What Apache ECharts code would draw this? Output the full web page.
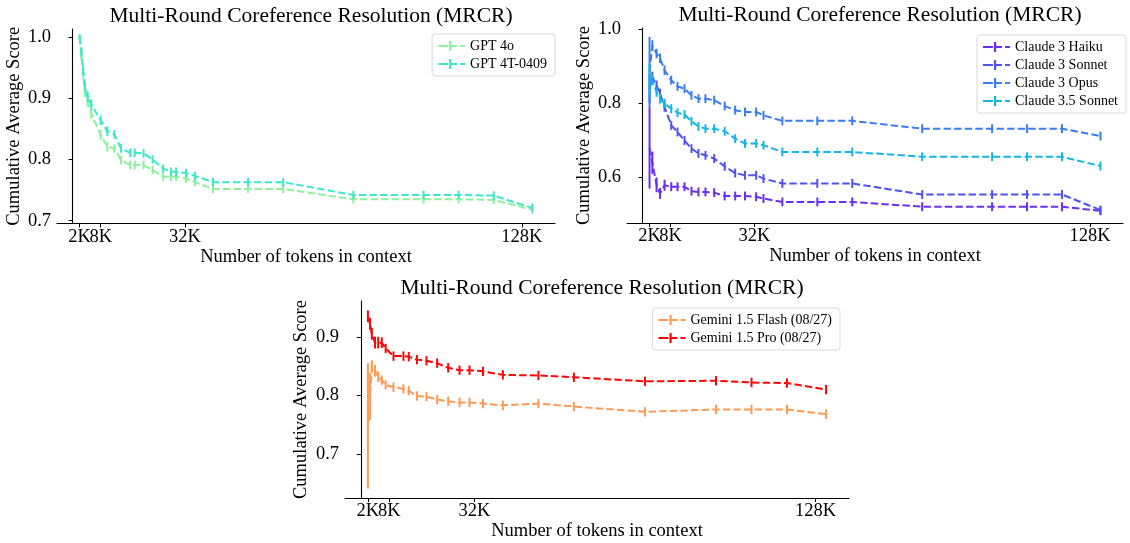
<!DOCTYPE html>
<html><head><meta charset="utf-8">
<script src="https://cdn.jsdelivr.net/npm/echarts@6/dist/echarts.min.js"></script>
<style>html,body{margin:0;padding:0;background:#fff}#c{width:1130px;height:543px}</style>
</head><body><div id="c"></div>
<script>
// ---- data ----
const tickValuesK = [2, 8, 32, 128];
const tickLabels = ['2K', '8K', '32K', '128K'];
const titleText = 'Multi-Round Coreference Resolution (MRCR)';
const xLabel = 'Number of tokens in context';
const yLabel = 'Cumulative Average Score';

const xGPT = [2, 2.5, 3, 3.5, 4.3, 5.3, 8, 9.9, 11.9, 13.8, 16.4, 17.7, 20.2, 22.8, 25.8, 28, 29.5, 32.3, 34.9, 40, 50, 60, 80, 100, 110, 120, 131];
const gpt4o = [1.0, 0.97, 0.94, 0.91, 0.894, 0.875, 0.840, 0.821, 0.818, 0.799, 0.791, 0.791, 0.791, 0.783, 0.772, 0.772, 0.772, 0.769, 0.763, 0.752, 0.752, 0.752, 0.735, 0.735, 0.735, 0.734, 0.718];
const gpt4oErr = [0.004, 0.008, 0.008, 0.008, 0.008, 0.008, 0.008, 0.008, 0.007, 0.007, 0.007, 0.007, 0.007, 0.007, 0.007, 0.007, 0.007, 0.007, 0.007, 0.007, 0.007, 0.007, 0.007, 0.007, 0.007, 0.007, 0.007];
const gpt4T = [1.0, 0.975, 0.945, 0.92, 0.902, 0.89, 0.864, 0.846, 0.841, 0.818, 0.811, 0.811, 0.810, 0.800, 0.785, 0.780, 0.780, 0.778, 0.773, 0.763, 0.763, 0.763, 0.742, 0.742, 0.742, 0.741, 0.721];
const gpt4TErr = [0.004, 0.008, 0.008, 0.008, 0.008, 0.008, 0.008, 0.008, 0.007, 0.007, 0.007, 0.007, 0.007, 0.007, 0.007, 0.007, 0.007, 0.007, 0.007, 0.007, 0.007, 0.007, 0.007, 0.007, 0.007, 0.007, 0.007];

const xClaude = [2, 2.8, 4, 5, 6.3, 8.2, 10, 12, 14, 16, 18, 20.5, 23.5, 26.5, 29.3, 32.5, 34.6, 40, 50, 60, 80, 100, 110, 120, 131];
const haiku = [0.68, 0.64, 0.58, 0.557, 0.579, 0.575, 0.575, 0.575, 0.563, 0.561, 0.561, 0.559, 0.550, 0.550, 0.550, 0.548, 0.543, 0.534, 0.534, 0.534, 0.521, 0.521, 0.521, 0.521, 0.510];
const haikuErr = [0.11, 0.03, 0.02, 0.015, 0.015, 0.012, 0.012, 0.012, 0.012, 0.012, 0.012, 0.012, 0.012, 0.012, 0.012, 0.012, 0.012, 0.012, 0.012, 0.012, 0.012, 0.012, 0.012, 0.012, 0.012];
const sonnet3 = [0.84, 0.872, 0.849, 0.827, 0.791, 0.741, 0.723, 0.700, 0.678, 0.665, 0.660, 0.651, 0.630, 0.612, 0.606, 0.606, 0.597, 0.584, 0.584, 0.584, 0.554, 0.554, 0.554, 0.554, 0.512];
const sonnet3Err = [0.04, 0.014, 0.013, 0.013, 0.013, 0.012, 0.012, 0.012, 0.012, 0.012, 0.012, 0.012, 0.012, 0.012, 0.012, 0.012, 0.012, 0.012, 0.012, 0.012, 0.012, 0.012, 0.012, 0.012, 0.012];
const opus = [0.885, 0.957, 0.935, 0.922, 0.890, 0.863, 0.846, 0.840, 0.822, 0.813, 0.813, 0.809, 0.793, 0.782, 0.777, 0.777, 0.768, 0.753, 0.753, 0.753, 0.732, 0.732, 0.732, 0.732, 0.712];
const opusErr = [0.095, 0.014, 0.013, 0.013, 0.013, 0.012, 0.012, 0.012, 0.012, 0.012, 0.012, 0.012, 0.012, 0.012, 0.012, 0.012, 0.012, 0.012, 0.012, 0.012, 0.012, 0.012, 0.012, 0.012, 0.012];
const sonnet35 = [0.863, 0.863, 0.831, 0.813, 0.800, 0.786, 0.775, 0.770, 0.752, 0.738, 0.732, 0.732, 0.725, 0.705, 0.692, 0.692, 0.687, 0.669, 0.669, 0.669, 0.656, 0.656, 0.656, 0.656, 0.631];
const sonnet35Err = [0.045, 0.014, 0.013, 0.013, 0.013, 0.012, 0.012, 0.012, 0.012, 0.012, 0.012, 0.012, 0.012, 0.012, 0.012, 0.012, 0.012, 0.012, 0.012, 0.012, 0.012, 0.012, 0.012, 0.012, 0.012];

const xGemini = [2, 2.6, 3.1, 4, 4.9, 5.9, 7, 9.2, 12, 13.5, 15.8, 18.5, 21.5, 24.6, 27.8, 30.6, 34.4, 40, 50, 60, 80, 100, 110, 120, 131];
const flash = [0.748, 0.798, 0.850, 0.842, 0.832, 0.826, 0.818, 0.814, 0.811, 0.808, 0.799, 0.798, 0.793, 0.790, 0.788, 0.788, 0.786, 0.783, 0.786, 0.781, 0.772, 0.776, 0.776, 0.776, 0.768];
const flashErr = [0.107, 0.04, 0.01, 0.01, 0.009, 0.008, 0.008, 0.008, 0.008, 0.008, 0.008, 0.008, 0.008, 0.008, 0.008, 0.008, 0.008, 0.008, 0.008, 0.008, 0.008, 0.008, 0.008, 0.008, 0.008];
const pro = [0.935, 0.922, 0.905, 0.890, 0.890, 0.890, 0.880, 0.867, 0.867, 0.866, 0.861, 0.859, 0.855, 0.847, 0.843, 0.843, 0.841, 0.835, 0.834, 0.831, 0.824, 0.825, 0.822, 0.821, 0.810];
const proErr = [0.01, 0.01, 0.01, 0.01, 0.01, 0.009, 0.008, 0.008, 0.008, 0.008, 0.008, 0.008, 0.008, 0.008, 0.008, 0.008, 0.008, 0.008, 0.008, 0.008, 0.008, 0.008, 0.008, 0.008, 0.008];

const yTicksGPT = [0.7, 0.8, 0.9, 1.0];
const yTicksClaude = [0.6, 0.8, 1.0];
const yTicksGemini = [0.7, 0.8, 0.9];

// ---- layout / style ----
const FONT = "'Liberation Serif','Times New Roman',serif";
const panels = [
  {left: 57, top: 29, width: 498, height: 194.5, ymin: 0.6955, ymax: 1.013, yticks: yTicksGPT, yNameGap: 32, legendRight: 575, legendTop: 34},
  {left: 627, top: 28, width: 496, height: 195, ymin: 0.477, ymax: 1.004, yticks: yTicksClaude, yNameGap: 31, legendRight: 4, legendTop: 35},
  {left: 345, top: 301, width: 504, height: 197, ymin: 0.625, ymax: 0.961, yticks: yTicksGemini, yNameGap: 34, legendRight: 290, legendTop: 308}
];
const seriesDefs = [
  {name: 'GPT 4o', p: 0, xs: xGPT, ys: gpt4o, es: gpt4oErr, color: '#8cf29c'},
  {name: 'GPT 4T-0409', p: 0, xs: xGPT, ys: gpt4T, es: gpt4TErr, color: '#3de8c9'},
  {name: 'Claude 3 Haiku', p: 1, xs: xClaude, ys: haiku, es: haikuErr, color: '#6a2ff5'},
  {name: 'Claude 3 Sonnet', p: 1, xs: xClaude, ys: sonnet3, es: sonnet3Err, color: '#5052f2'},
  {name: 'Claude 3 Opus', p: 1, xs: xClaude, ys: opus, es: opusErr, color: '#3b7cf3'},
  {name: 'Claude 3.5 Sonnet', p: 1, xs: xClaude, ys: sonnet35, es: sonnet35Err, color: '#16b5e8'},
  {name: 'Gemini 1.5 Flash (08/27)', p: 2, xs: xGemini, ys: flash, es: flashErr, color: '#ff9a55'},
  {name: 'Gemini 1.5 Pro (08/27)', p: 2, xs: xGemini, ys: pro, es: proErr, color: '#ff0505'}
];
const legendIcon = 'path://M0,4h10v2h-10z M11,0h2.2v10h-2.2z M13,4h6v2h-6z M22,4h5v2h-5z';

// labels split over two overlaid axes so that adjacent "2K" and "8K" both stay visible
const mainLabelVals = tickValuesK.filter((v, i) => i !== 1);
const extraLabelVals = [tickValuesK[1]];
const fmtK = v => tickLabels[tickValuesK.indexOf(v)];
const labelStyle = {fontFamily: FONT, fontSize: 18.5, color: '#000'};

const grid = panels.map(p => ({left: p.left, top: p.top, width: p.width, height: p.height}));
const xAxis = panels.map((p, i) => ({
  type: 'value', gridIndex: i, position: 'bottom', min: -4.45, max: 137.45,
  name: xLabel, nameLocation: 'middle', nameGap: 23,
  nameTextStyle: labelStyle,
  axisLine: {lineStyle: {color: '#000', width: 1.1}},
  axisTick: {show: true, length: 4, customValues: tickValuesK, lineStyle: {color: '#000'}},
  axisLabel: Object.assign({customValues: mainLabelVals, margin: 4, formatter: fmtK}, labelStyle),
  splitLine: {show: false}
})).concat(panels.map((p, i) => ({
  type: 'value', gridIndex: i, position: 'bottom', offset: 0, min: -4.45, max: 137.45,
  axisLine: {show: false}, axisTick: {show: false},
  axisLabel: Object.assign({customValues: extraLabelVals, margin: 4, formatter: fmtK}, labelStyle),
  splitLine: {show: false}
})));
const yAxis = panels.map((p, i) => ({
  type: 'value', gridIndex: i, min: p.ymin, max: p.ymax,
  name: yLabel, nameLocation: 'middle', nameGap: p.yNameGap,
  nameTextStyle: labelStyle,
  axisLine: {show: true, lineStyle: {color: '#000', width: 1.1}},
  axisTick: {show: true, length: 4, customValues: p.yticks, lineStyle: {color: '#000'}},
  axisLabel: Object.assign({customValues: p.yticks, margin: 6, formatter: v => v.toFixed(1)}, labelStyle),
  splitLine: {show: false}
}));
const title = panels.map(p => ({
  text: titleText, left: p.left + p.width / 2, top: p.top - 29, textAlign: 'center',
  textStyle: {fontFamily: FONT, fontSize: 21.5, fontWeight: 'normal', color: '#000'}
}));
const legend = panels.map((p, i) => ({
  orient: 'vertical', right: p.legendRight, top: p.legendTop,
  data: seriesDefs.filter(s => s.p === i).map(s => ({name: s.name, icon: legendIcon, itemStyle: {color: s.color}})),
  itemWidth: 27, itemHeight: 10, itemGap: 4,
  padding: [5, 8, 5, 6],
  borderColor: '#d9d9d9', borderWidth: 1, borderRadius: 3,
  textStyle: {fontFamily: FONT, fontSize: 14, color: '#000', lineHeight: 14},
  selectedMode: false
}));

const series = [];
seriesDefs.forEach(s => {
  const pts = s.xs.map((x, i) => [x, s.ys[i], s.es[i]]);
  series.push({
    type: 'line', name: s.name, xAxisIndex: s.p, yAxisIndex: s.p,
    data: pts.map(d => [d[0], d[1]]), showSymbol: false, symbol: 'none',
    itemStyle: {color: s.color},
    lineStyle: {color: s.color, width: 2, type: [7.4, 3.2]}, z: 2, animation: false, silent: true
  });
  series.push({
    type: 'custom', name: s.name, xAxisIndex: s.p, yAxisIndex: s.p,
    data: pts, itemStyle: {color: s.color}, encode: {x: 0, y: 1}, z: 3, animation: false, silent: true,
    renderItem: (params, api) => {
      const x = api.value(0), y = api.value(1), e = api.value(2);
      const a = api.coord([x, y - e]), b = api.coord([x, y + e]);
      return {type: 'line', shape: {x1: a[0], y1: a[1], x2: b[0], y2: b[1]},
        style: {stroke: s.color, lineWidth: 2}};
    }
  });
});

const chart = echarts.init(document.getElementById('c'), null, {renderer: 'canvas'});
chart.setOption({backgroundColor: '#fff', animation: false, title, grid, xAxis, yAxis, legend, series});
</script>
</body></html>
